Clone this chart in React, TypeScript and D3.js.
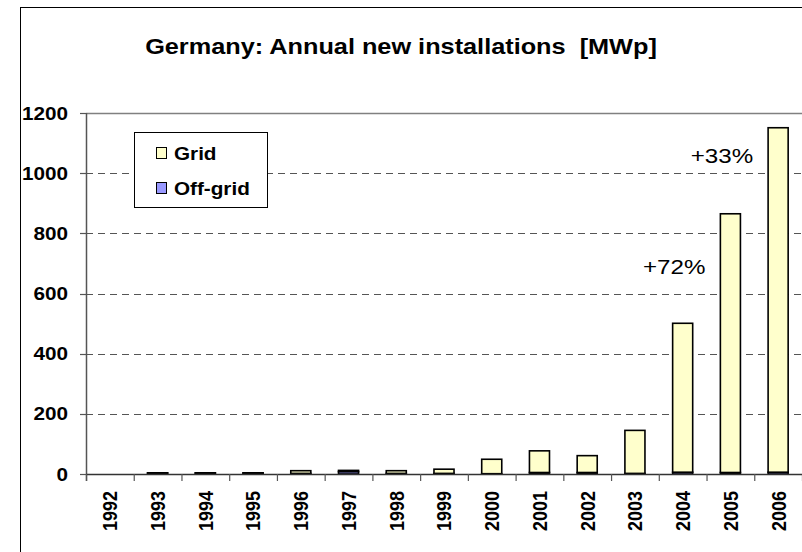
import React from "react";
import * as d3 from "d3";

const years = ["1992","1993","1994","1995","1996","1997","1998","1999","2000","2001","2002","2003","2004","2005","2006"];
const gridValues = [0, 1, 1, 1, 9, 4, 9, 14, 48, 72, 56, 143, 495, 860, 1145];
const offGridValues = [0, 3, 3, 3, 2, 8, 2, 2, 1, 5, 5, 2, 6, 5, 6];
const yTicks = [0, 200, 400, 600, 800, 1000, 1200];
const seriesNames = ["Grid", "Off-grid"];
const seriesColors = ["#FFFFCC", "#9999FF"];
const annotations = [
  { text: "+72%", year: "2005", value: 665 },
  { text: "+33%", year: "2006", value: 1035 },
];

const W = 802, H = 552;
const plot = { left: 86, right: 802, top: 113, bottom: 474 };
const SX = 1.15;
const FONT = "'Liberation Sans', Arial, sans-serif";

export default function App() {
  const x = d3.scaleBand<string>().domain(years).range([plot.left, plot.right]).paddingInner(0.58).paddingOuter(0.29);
  const xs = d3.scaleBand<string>().domain(years).range([plot.left, plot.right]).padding(0);
  const y = d3.scaleLinear().domain([0, 1200]).range([plot.bottom, plot.top]);

  const table = years.map((yr, i) => ({ year: yr, off: offGridValues[i], grid: gridValues[i] }));
  const stack = d3.stack<any>().keys(["off", "grid"])(table);
  const colorFor: Record<string, string> = { off: seriesColors[1], grid: seriesColors[0] };

  const stretchText = (tx: number, ty: number, content: string, props: any, rot = 0) => (
    <text transform={`translate(${tx},${ty}) scale(${SX},1)${rot ? ` rotate(${rot})` : ""}`} style={{ whiteSpace: "pre" }} {...props}>{content}</text>
  );

  const boundaries = years.map((yr) => xs(yr)!).concat([plot.right]);

  return (
    <div style={{ position: "fixed", left: 0, top: 0 }}>
      <svg width={W} height={H} style={{ display: "block", background: "#fff" }} fontFamily={FONT}>
        <rect x={0} y={0} width={W} height={H} fill="#fff" />
        <line x1={20} y1={7.5} x2={W} y2={7.5} stroke="#000" strokeWidth={1} />
        <line x1={20.5} y1={7} x2={20.5} y2={H} stroke="#000" strokeWidth={1} />

        {stretchText(401, 54, "Germany: Annual new installations  [MWp]", { fontSize: 22, fontWeight: "bold", textAnchor: "middle", fill: "#000" })}

        {yTicks.filter((t) => t > 0 && t < 1200).map((t) => (
          <line key={t} x1={plot.left} x2={plot.right} y1={Math.round(y(t)) + 0.5} y2={Math.round(y(t)) + 0.5} stroke="#555" strokeWidth={1} strokeDasharray="7,5" />
        ))}
        <line x1={plot.left} x2={plot.right} y1={Math.round(y(1200)) + 0.5} y2={Math.round(y(1200)) + 0.5} stroke="#808080" strokeWidth={1.5} />

        {stack.map((layer) => (
          <g key={layer.key} fill={colorFor[layer.key]} stroke="#000" strokeWidth={1.6}>
            {layer.map((d: any, i: number) => {
              const v = d[1] - d[0];
              if (v <= 0) return null;
              const x0 = x(years[i])!;
              return <rect key={i} x={x0} y={y(d[1])} width={x.bandwidth()} height={y(d[0]) - y(d[1])} />;
            })}
          </g>
        ))}

        <line x1={plot.left + 0.5} x2={plot.left + 0.5} y1={plot.top} y2={plot.bottom + 7} stroke="#555" strokeWidth={1.5} />
        <line x1={plot.left} x2={plot.right} y1={plot.bottom + 0.5} y2={plot.bottom + 0.5} stroke="#333" strokeWidth={1.5} />
        {yTicks.map((t) => (
          <g key={t}>
            <line x1={plot.left - 6} x2={plot.left} y1={Math.round(y(t)) + 0.5} y2={Math.round(y(t)) + 0.5} stroke="#555" strokeWidth={1.2} />
            {stretchText(68, y(t) + 6.5, String(t), { fontSize: 18, fontWeight: "bold", textAnchor: "end", fill: "#000" })}
          </g>
        ))}
        {boundaries.map((bx, i) => (
          <line key={i} x1={bx + 0.5} x2={bx + 0.5} y1={plot.bottom} y2={plot.bottom + 7} stroke="#555" strokeWidth={1.2} />
        ))}
        {years.map((yr) => {
          const cx = xs(yr)! + xs.bandwidth() / 2;
          return (
            <g key={yr}>
              {stretchText(cx + 7.4, 491, yr, { fontSize: 18, fontWeight: "bold", textAnchor: "end", fill: "#000" }, -90)}
            </g>
          );
        })}

        {annotations.map((a) => (
          <g key={a.text}>
            {stretchText(x(a.year)! - 15, y(a.value), a.text, { fontSize: 21, textAnchor: "end", fill: "#000" })}
          </g>
        ))}

        <rect x={134.5} y={132.5} width={133} height={75} fill="#fff" stroke="#000" strokeWidth={1} />
        {seriesNames.map((name, i) => (
          <g key={name}>
            <rect x={156.5} y={147.5 + i * 35} width={10} height={11} fill={seriesColors[i]} stroke="#000" strokeWidth={1} />
            {stretchText(174, 159.5 + i * 35, name, { fontSize: 18, fontWeight: "bold", fill: "#000" })}
          </g>
        ))}
      </svg>
    </div>
  );
}
